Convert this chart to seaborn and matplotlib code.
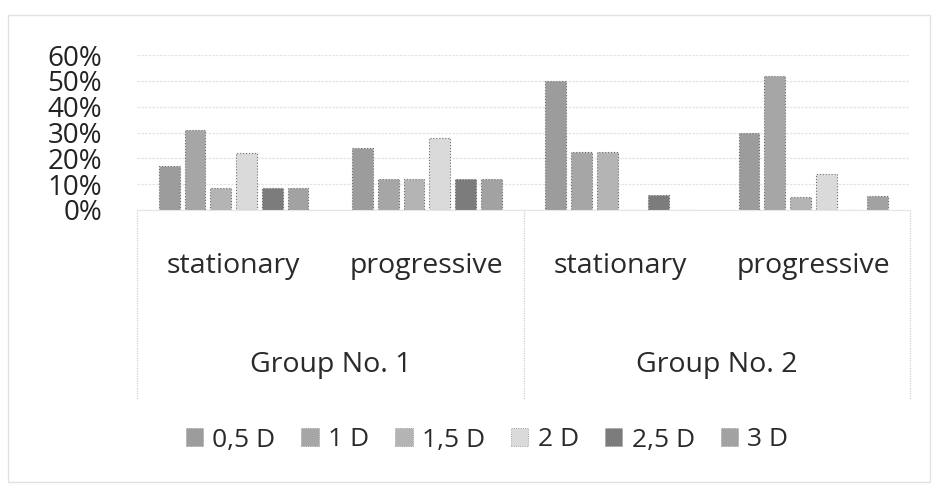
import pandas as pd
import numpy as np
import matplotlib.pyplot as plt
import matplotlib.transforms as mtransforms
from matplotlib.patches import Rectangle
from matplotlib.ticker import PercentFormatter
import seaborn as sns

# values (share of eyes per refraction change)
categories = ["G1 stationary", "G1 progressive", "G2 stationary", "G2 progressive"]
cat_labels = ["stationary", "progressive", "stationary", "progressive"]
groups = ["Group No. 1", "Group No. 2"]
levels = ["0,5 D", "1 D", "1,5 D", "2 D", "2,5 D", "3 D"]

g1_stationary = [0.17, 0.31, 0.085, 0.22, 0.085, 0.085]
g1_progressive = [0.24, 0.12, 0.12, 0.28, 0.12, 0.12]
g2_stationary = [0.50, 0.225, 0.225, 0.0, 0.06, 0.0]
g2_progressive = [0.30, 0.52, 0.05, 0.14, 0.0, 0.055]

colors = ["#9c9c9c", "#a6a6a6", "#b4b4b4", "#dadada", "#7c7c7c", "#a2a2a2"]

rows = []
for cat, vals in zip(categories, [g1_stationary, g1_progressive, g2_stationary, g2_progressive]):
    for lev, v in zip(levels, vals):
        rows.append({"category": cat, "level": lev, "value": v})
df = pd.DataFrame(rows)

sns.set_style("white")
plt.rcParams["font.family"] = ["Open Sans", "DejaVu Sans"]

fig = plt.figure(figsize=(9.4, 4.97), dpi=100)
ax = fig.add_axes([137 / 940, 1 - 210 / 497, (910 - 137) / 940, 155 / 497])

sns.barplot(data=df, x="category", y="value", hue="level", order=categories,
            hue_order=levels, palette=colors, width=0.8, gap=0.2,
            edgecolor="#6e6e6e", linewidth=0.8, ax=ax)
for p in ax.patches:
    p.set_linestyle(":")

ax.set_ylim(0, 0.6)
ax.set_xlim(-0.5, 3.5)
ax.set_yticks(np.arange(0, 0.61, 0.1))
ax.yaxis.set_major_formatter(PercentFormatter(1.0, decimals=0))
ax.grid(axis="y", color="#e4e4e4", linewidth=0.9, linestyle=(0, (2, 1)))
ax.set_axisbelow(True)
for s in ax.spines.values():
    s.set_visible(False)
ax.tick_params(axis="y", length=0, pad=25, labelsize=20, labelcolor="#222222")
ax.set_xticks(range(4))
ax.set_xticklabels(cat_labels)
ax.tick_params(axis="x", length=0, pad=30, labelsize=20.5, labelcolor="#2a2a2a")
ax.set_xlabel("")
ax.set_ylabel("")
ax.legend_.remove()

# multi-level category axis: group labels and separators
trans = mtransforms.blended_transform_factory(ax.transData, fig.transFigure)
for i, g in enumerate(groups):
    ax.text(i * 2 + 0.5, 1 - 365 / 497, g, transform=trans, ha="center", va="center",
            fontsize=20.5, color="#2a2a2a")
for xs in [-0.5, 1.5, 3.5]:
    ax.plot([xs, xs], [1 - 210 / 497, 1 - 400 / 497], transform=trans, clip_on=False,
            color="#d0d0d0", linewidth=0.9, linestyle=(0, (1, 1)))
ax.plot([-0.5, 3.5], [1 - 210 / 497, 1 - 210 / 497], transform=trans, clip_on=False,
        color="#e6e6e6", linewidth=0.8)

# legend
handles = [Rectangle((0, 0), 1, 1, facecolor=c, edgecolor="#8a8a8a", linewidth=0.6,
                     linestyle=":") for c in colors]
fig.legend(handles, levels, loc="center", bbox_to_anchor=(487 / 940, 1 - 440 / 497), ncol=6,
           frameon=False, fontsize=19, handlelength=0.65, handleheight=0.65,
           handletextpad=0.35, columnspacing=1.0, labelcolor="#2a2a2a")

# faint chart border
fig.patches.append(Rectangle((8 / 940, 1 - 482 / 497), 922 / 940, 467 / 497,
                             transform=fig.transFigure, fill=False,
                             edgecolor="#e2e2e2", linewidth=1.0))

fig.savefig("out.png", dpi=100)
